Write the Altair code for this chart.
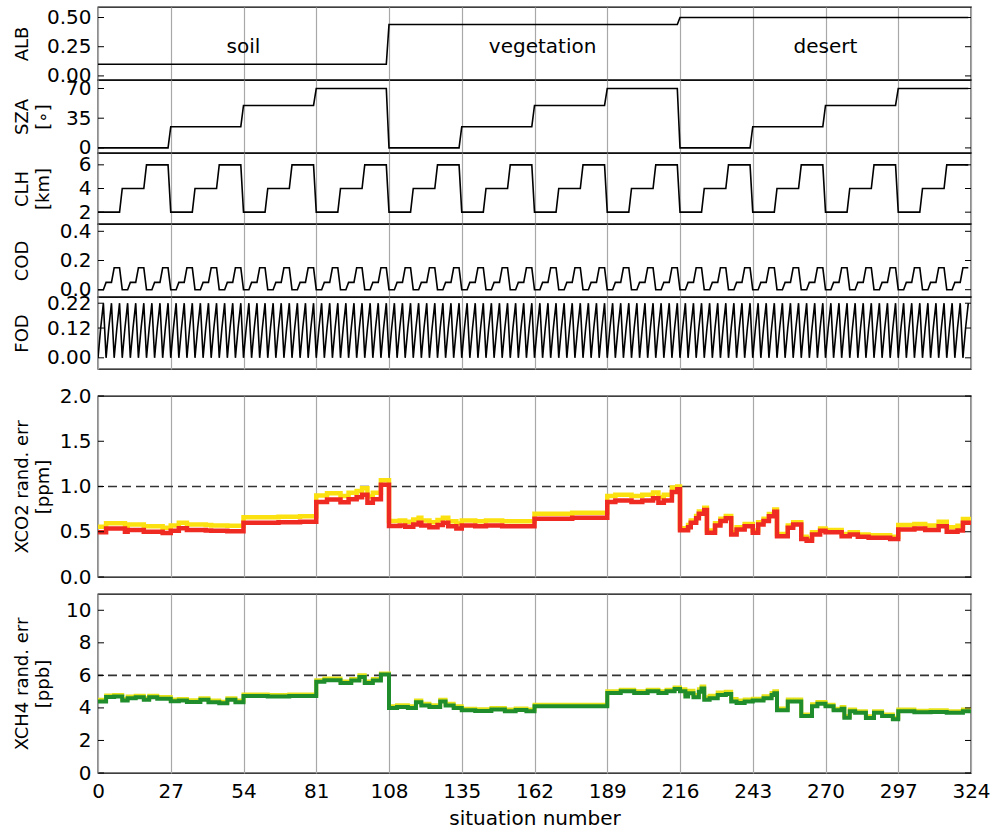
import itertools
import altair as alt
import pandas as pd

# ------------------------------------------------------------------ data
situation_ticks = [0, 27, 54, 81, 108, 135, 162, 189, 216, 243, 270, 297, 324]

surfaces = ["soil", "vegetation", "desert"]
surface_label_x = [54, 165, 270]
surface_label_y = [0.25, 0.25, 0.25]

alb_levels = [0.10, 0.44, 0.50]
sza_levels = [0, 25, 50, 70]
clh_levels = [2, 4, 6]
cod_levels = [0.0, 0.05, 0.15]
fod_levels = [0.0, 0.12, 0.22]

alb_ticks = [0.0, 0.25, 0.5]
sza_ticks = [0, 35, 70]
clh_ticks = [2, 4, 6]
cod_ticks = [0.0, 0.2, 0.4]
fod_ticks = [0.0, 0.12, 0.22]
co2_ticks = [0.0, 0.5, 1.0, 1.5, 2.0]
ch4_ticks = [0, 2, 4, 6, 8, 10]

co2_threshold = [1.0]
ch4_threshold = [6.0]

co2_x = [0, 3, 10, 11, 17, 24, 27, 30, 33, 40, 42, 48, 54, 67, 75,
         81, 85, 90, 93, 96, 98, 100, 102, 105,
         108, 112, 114, 117, 119, 120, 123, 126, 128, 130, 133,
         135, 140, 144, 150, 162, 176,
         189, 192, 198, 202, 206, 208, 210, 213, 215,
         216, 219, 220, 222, 223, 225, 226, 229, 231, 233, 235, 237, 240,
         243, 245, 247, 249, 251, 252, 256, 258, 261, 263, 265, 268,
         270, 276, 279, 282, 286, 294,
         297, 303, 307, 312, 315, 319, 321, 324]
co2_red = [0.495, 0.535, 0.50, 0.52, 0.50, 0.486,
           0.51, 0.54, 0.52, 0.515, 0.51, 0.505,
           0.60, 0.605, 0.61,
           0.83, 0.855, 0.825, 0.86, 0.88, 0.91, 0.82, 0.86, 1.02,
           0.563, 0.57, 0.555, 0.58, 0.60, 0.57, 0.55, 0.575, 0.60, 0.56, 0.535,
           0.57, 0.56, 0.57, 0.56,
           0.645, 0.655,
           0.83, 0.845, 0.83, 0.845, 0.87, 0.82, 0.845, 0.94, 0.97,
           0.516, 0.55, 0.60, 0.65, 0.70, 0.74, 0.49, 0.57, 0.62, 0.65, 0.47, 0.525, 0.56,
           0.49, 0.58, 0.62, 0.67, 0.72, 0.45, 0.545, 0.58, 0.42, 0.40, 0.47, 0.51,
           0.495, 0.45, 0.47, 0.445, 0.435, 0.42,
           0.525, 0.535, 0.52, 0.56, 0.50, 0.515, 0.60, 0.60]
co2_yellow = [0.555, 0.595, 0.56, 0.58, 0.56, 0.545,
              0.57, 0.60, 0.58, 0.575, 0.57, 0.565,
              0.66, 0.665, 0.67,
              0.90, 0.925, 0.895, 0.93, 0.95, 0.98, 0.89, 0.93, 1.07,
              0.62, 0.625, 0.61, 0.635, 0.655, 0.625, 0.605, 0.63, 0.655, 0.615, 0.59,
              0.625, 0.615, 0.625, 0.615,
              0.70, 0.71,
              0.895, 0.91, 0.895, 0.91, 0.935, 0.885, 0.91, 0.99, 1.00,
              0.54, 0.575, 0.625, 0.675, 0.725, 0.765, 0.515, 0.595, 0.645, 0.675, 0.495, 0.55, 0.585,
              0.515, 0.605, 0.645, 0.695, 0.745, 0.475, 0.57, 0.605, 0.445, 0.425, 0.495, 0.535,
              0.52, 0.475, 0.495, 0.47, 0.46, 0.445,
              0.575, 0.585, 0.57, 0.61, 0.55, 0.565, 0.64, 0.64]

ch4_x = [0, 3, 6, 9, 11, 14, 17, 19, 22,
         27, 30, 33, 38, 41, 45, 48, 51,
         54, 63, 71,
         81, 84, 90, 94, 97, 99, 102, 105,
         108, 111, 115, 118, 120, 123, 127, 129, 132,
         135, 140, 146, 151, 155, 159,
         162,
         189, 194, 199, 204, 208, 211, 214,
         216, 218, 219, 221, 223, 224, 225, 227, 230, 233, 235, 237, 240,
         243, 247, 250, 251, 252, 256, 261, 265, 267,
         270, 273, 276, 277, 279, 281, 285, 288, 291, 295,
         297, 303, 309, 315, 321, 324]
ch4_green = [4.40, 4.67, 4.70, 4.45, 4.60, 4.65, 4.50, 4.65, 4.57,
             4.41, 4.45, 4.37, 4.50, 4.35, 4.28, 4.50, 4.35,
             4.73, 4.70, 4.73,
             5.60, 5.70, 5.53, 5.68, 5.90, 5.53, 5.68, 6.05,
             4.00, 4.06, 4.00, 4.35, 4.15, 4.06, 4.40, 4.15, 4.00,
             3.85, 3.81, 3.90, 3.80, 3.87, 3.80,
             4.10,
             4.92, 5.02, 4.92, 5.02, 4.92, 5.02, 5.16,
             5.02, 4.70, 4.90, 4.65, 5.00, 5.20, 4.50, 4.60, 4.80, 4.85, 4.40, 4.30, 4.40,
             4.45, 4.60, 4.80, 4.90, 3.85, 4.40, 3.50, 4.10, 4.25,
             4.10, 3.85, 3.95, 3.40, 3.80, 3.70, 3.38, 3.70, 3.50, 3.30,
             3.80, 3.73, 3.75, 3.70, 3.80, 3.80]
ch4_yellow = [4.50, 4.77, 4.80, 4.55, 4.70, 4.75, 4.60, 4.75, 4.67,
              4.51, 4.55, 4.47, 4.60, 4.45, 4.38, 4.60, 4.45,
              4.83, 4.80, 4.83,
              5.70, 5.80, 5.63, 5.78, 6.00, 5.63, 5.78, 6.12,
              4.10, 4.16, 4.10, 4.45, 4.25, 4.16, 4.50, 4.25, 4.10,
              3.95, 3.91, 4.00, 3.90, 3.97, 3.90,
              4.20,
              5.02, 5.12, 5.02, 5.12, 5.02, 5.12, 5.26,
              5.14, 4.85, 5.05, 4.80, 5.15, 5.32, 4.65, 4.75, 4.95, 5.00, 4.55, 4.45, 4.52,
              4.57, 4.72, 4.92, 5.02, 3.97, 4.52, 3.60, 4.22, 4.37,
              4.20, 3.95, 4.05, 3.50, 3.90, 3.80, 3.48, 3.80, 3.60, 3.40,
              3.90, 3.83, 3.85, 3.80, 3.90, 3.90]

# ------------------------------------------------------------------ tables
rows = []
for i, (a, s, c, o, f) in enumerate(itertools.product(alb_levels, sza_levels, clh_levels,
                                                       cod_levels, fod_levels)):
    rows.append({"x": i, "ALB": a, "SZA": s, "CLH": c, "COD": o, "FOD": f})
scen = pd.DataFrame(rows)

co2_red_df = pd.DataFrame({"x": co2_x, "v": co2_red})
co2_yel_df = pd.DataFrame({"x": co2_x, "v": co2_yellow})
ch4_grn_df = pd.DataFrame({"x": ch4_x, "v": ch4_green})
ch4_yel_df = pd.DataFrame({"x": ch4_x, "v": ch4_yellow})
labels_df = pd.DataFrame({"x": surface_label_x, "v": surface_label_y, "t": surfaces})

# ------------------------------------------------------------------ helpers
W = 873
FONT = "DejaVu Sans"
xscale = alt.Scale(domain=[0, 324], nice=False, zero=False)


def xaxis(show):
    if show:
        return alt.Axis(values=situation_ticks, grid=True, gridColor="#a8a8a8", gridWidth=1.2,
                        ticks=False, domain=False, labelPadding=8, labelFontSize=20,
                        title="situation number", titleFontSize=20, titlePadding=7,
                        labelFlush=False)
    return alt.Axis(values=situation_ticks, grid=True, gridColor="#a8a8a8", gridWidth=1.2,
                    ticks=False, domain=False, labels=False, title=None)


def yaxis(ticks, fmt, title, h):
    return alt.Axis(values=ticks, format=fmt, title=title, titleAngle=270, titleX=-85,
                    titleY=h / 2, titleAlign="center", titleBaseline="top",
                    titleLineHeight=21, titleFontSize=18, ticks=False, labelPadding=7,
                    grid=False, domain=False, labelFontSize=20)


def tick_layers(ticks, yscale, ax):
    tdf = pd.DataFrame({"v": ticks})
    left = alt.Chart(tdf).mark_rule(color="black", strokeWidth=1).encode(
        y=alt.Y("v:Q", scale=yscale, axis=ax), x=alt.value(0), x2=alt.value(6))
    right = alt.Chart(tdf).mark_rule(color="black", strokeWidth=1).encode(
        y=alt.Y("v:Q", scale=yscale, axis=ax), x=alt.value(W - 6), x2=alt.value(W))
    return [left, right]


def top_panel(field, domain, ticks, fmt, title, h, extra=None):
    yscale = alt.Scale(domain=domain, nice=False, zero=False)
    ax = yaxis(ticks, fmt, title, h)
    line = alt.Chart(scen).mark_line(color="black", strokeWidth=1.6, clip=True).encode(
        x=alt.X("x:Q", scale=xscale, axis=xaxis(False)),
        y=alt.Y(f"{field}:Q", scale=yscale, axis=ax),
    )
    layers = [line] + tick_layers(ticks, yscale, ax)
    if extra is not None:
        layers.append(extra(yscale, ax))
    return alt.layer(*layers).properties(width=W, height=h)


def surface_text(yscale, ax):
    return alt.Chart(labels_df).mark_text(fontSize=20, font=FONT, color="black").encode(
        x=alt.X("x:Q", scale=xscale, axis=xaxis(False)),
        y=alt.Y("v:Q", scale=yscale, axis=ax),
        text="t:N",
    )


alb = top_panel("ALB", [-0.035, 0.59], alb_ticks, ".2f", "ALB", 73, surface_text)
sza = top_panel("SZA", [-6, 80], sza_ticks, "d", ["SZA", "[∘]"], 73)
clh = top_panel("CLH", [1, 7], clh_ticks, "d", ["CLH", "[km]"], 71)
cod = top_panel("COD", [-0.05, 0.45], cod_ticks, ".1f", "COD", 73)
fod = top_panel("FOD", [-0.045, 0.245], fod_ticks, ".2f", "FOD", 72)


def err_panel(dfs_colors, thr, domain, ticks, fmt, title, h, show_x, width_px):
    yscale = alt.Scale(domain=domain, nice=False, zero=False)
    ax = yaxis(ticks, fmt, title, h)
    thr_df = pd.DataFrame({"v": thr})
    dash = alt.Chart(thr_df).mark_rule(color="#333333", strokeWidth=1.6,
                                       strokeDash=[9, 5]).encode(
        y=alt.Y("v:Q", scale=yscale, axis=ax))
    layers = [dash]
    for df, col in dfs_colors:
        layers.append(alt.Chart(df).mark_line(color=col, strokeWidth=width_px,
                                              interpolate="step-after", clip=True).encode(
            x=alt.X("x:Q", scale=xscale, axis=xaxis(show_x)),
            y=alt.Y("v:Q", scale=yscale, axis=ax),
        ))
    layers += tick_layers(ticks, yscale, ax)
    return alt.layer(*layers).properties(width=W, height=h)


co2 = err_panel([(co2_yel_df, "#fbe10f"), (co2_red_df, "#ef2a22")], co2_threshold,
                [0, 2], co2_ticks, ".1f", ["XCO2 rand. err", "[ppm]"], 181, False, 4.5)
ch4 = err_panel([(ch4_yel_df, "#e6e21a"), (ch4_grn_df, "#1f8d2c")], ch4_threshold,
                [0, 11], ch4_ticks, "d", ["XCH4 rand. err", "[ppb]"], 179, True, 4)


def spacer(h):
    return alt.Chart(pd.DataFrame({"a": [0]})).mark_point(opacity=0).encode(
        x=alt.value(0), y=alt.value(0)
    ).properties(width=W, height=h, view=alt.ViewBackground(strokeOpacity=0))


chart = alt.vconcat(alb, sza, clh, cod, fod, spacer(27), co2, spacer(17), ch4,
                    spacing=0, bounds="flush").properties(
    padding={"left": 12, "top": 6, "right": 0, "bottom": 2}
).configure_view(
    stroke="black", strokeWidth=1.3
).configure_axis(
    labelFont=FONT, titleFont=FONT, labelColor="black", titleColor="black",
    titleFontWeight="normal"
)

chart.save("out.html", embed_options={"renderer": "svg", "actions": False})
